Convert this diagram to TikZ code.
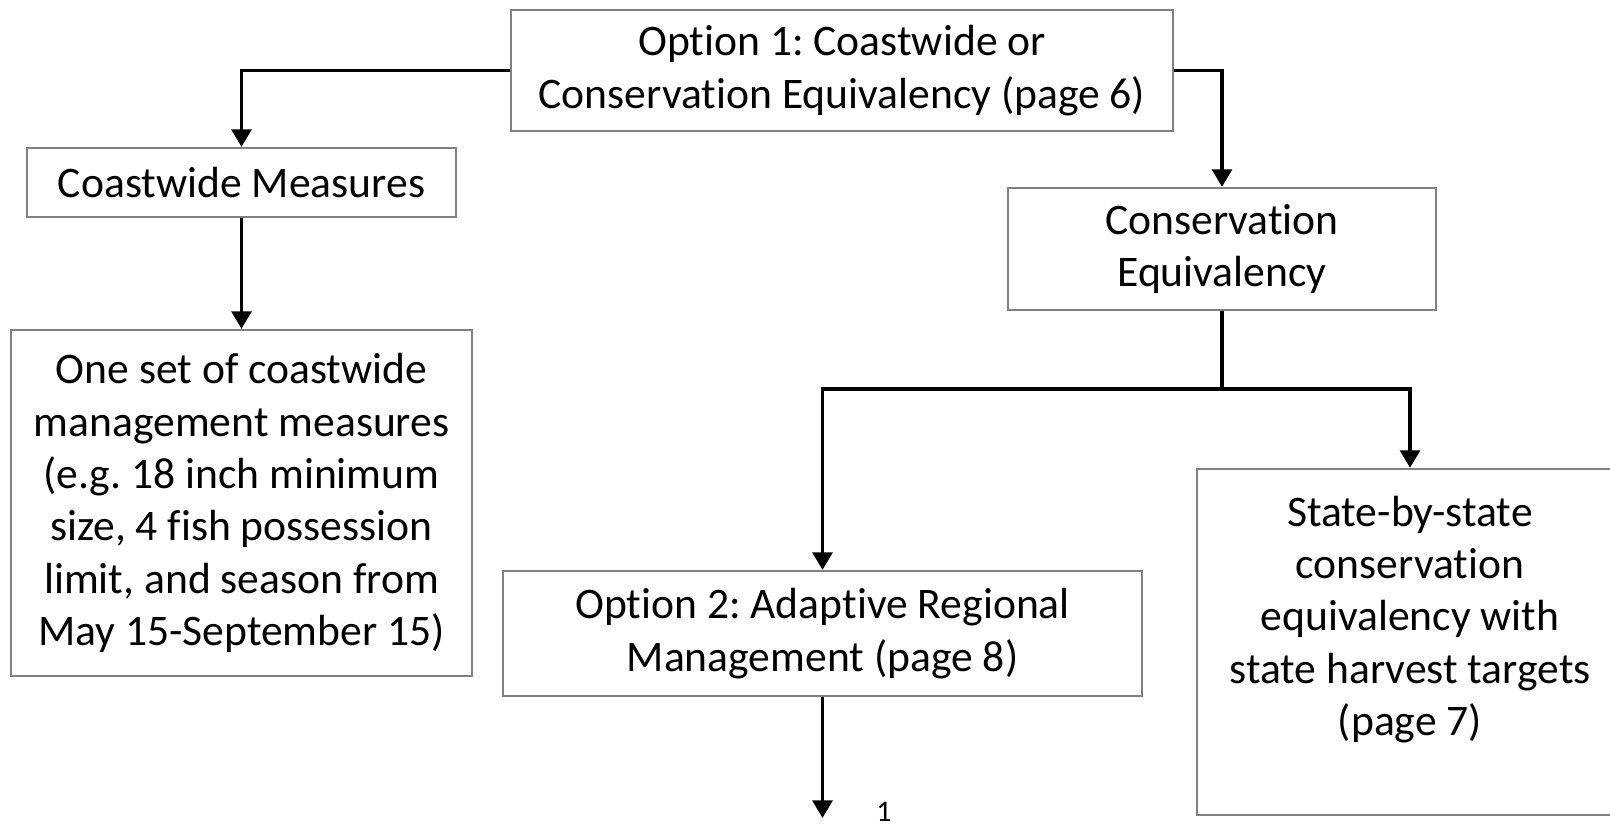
\documentclass[tikz,border=0pt]{standalone}
\usepackage{fontspec}
\setmainfont{Carlito}[Ligatures=NoCommon]
\usepackage{tikz}
\usetikzlibrary{arrows.meta}
\frenchspacing

\begin{document}
\begin{tikzpicture}[x=0.01cm,y=-0.01cm,
    box/.style={draw=black!50,line width=0.6pt,align=center,inner sep=0pt,
      font=\fontsize{12.4}{14.9}\selectfont},
    conn/.style={line width=1.1pt},
    arr/.style={conn,-{Triangle[length=5pt,width=5.6pt]}}]
        \clip (0,0) rectangle (1610,827);
        \fill[white] (0,0) rectangle (1610,827);
        \node[box,minimum width=6.62cm,minimum height=1.21cm] (opt1) at (842,70.5) {Option 1: Coastwide or\\Conservation Equivalency (page 6)};
        \node[box,minimum width=4.29cm,minimum height=0.69cm] (cwm) at (241.5,182.5) {Coastwide Measures};
        \node[box,minimum width=4.28cm,minimum height=1.22cm] (ce) at (1222,249) {Conservation\\Equivalency};
        \node[box,minimum width=4.61cm,minimum height=3.46cm] (oneset) at (241.5,503) {One set of coastwide\\management measures\\(e.g. 18 inch minimum\\size, 4 fish possession\\limit, and season from\\May 15-September 15)};
        \node[box,minimum width=6.39cm,minimum height=1.25cm] (opt2) at (822.5,633.5) {Option 2: Adaptive Regional\\Management (page 8)};
        \node[box,minimum width=4.26cm,minimum height=3.46cm] (state) at (1410,642) {State-by-state\\conservation\\equivalency with\\state harvest targets\\(page 7)\\ \mbox{}};
        \node[inner sep=0pt,font=\fontsize{8.5}{10}\selectfont] (pg) at (884,812) {1};
        \coordinate (split) at (1222,389);
        \coordinate (cont) at (822.5,818);
        \draw[arr] (opt1.west) -| (cwm.north);
        \draw[arr] (opt1.east) -| (ce.north);
        \draw[arr] (cwm.south) -- (oneset.north);
        \draw[conn] (ce.south) -- (split);
        \draw[arr] (split) -| (opt2.north);
        \draw[arr] (split) -| (state.north);
        \draw[arr] (opt2.south) -- (cont);
\end{tikzpicture}
\end{document}
